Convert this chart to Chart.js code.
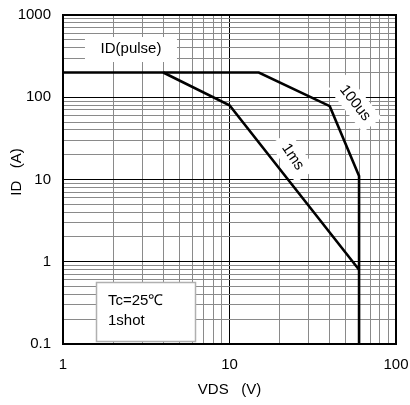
<!DOCTYPE html>
<html>
<head>
<meta charset="utf-8">
<script src="https://cdn.jsdelivr.net/npm/chart.js@4"></script>
<style>
  body { margin: 0; background: #fff; }
  #wrap { width: 410px; height: 405px; }
</style>
</head>
<body>
<div id="wrap"><canvas id="soa" width="410" height="405"></canvas></div>
<script>
// curvas SOA (VDS en V, ID en A)
const vds100us = [1, 15, 40, 60, 60];
const id100us = [200, 200, 78, 11, 0.1];
const vds1ms = [4, 10, 60];
const id1ms = [200, 80, 0.8];

// marcas de los ejes
const xTicks = [1, 2, 3, 4, 5, 6, 7, 8, 9, 10, 20, 30, 40, 50, 60, 70, 80, 90, 100];
const yTicks = [0.1, 0.2, 0.3, 0.4, 0.5, 0.6, 0.7, 0.8, 0.9, 1, 2, 3, 4, 5, 6, 7, 8, 9,
  10, 20, 30, 40, 50, 60, 70, 80, 90, 100, 200, 300, 400, 500, 600, 700, 800, 900, 1000];
const xLabels = ['1', '10', '100'];
const yLabels = ['0.1', '1', '10', '100', '1000'];

const font = "'Liberation Sans', Arial, sans-serif";

const toPoints = (xs, ys) => xs.map((x, i) => ({ x: x, y: ys[i] }));
const isDecade = (v) => Math.abs(Math.log10(v) - Math.round(Math.log10(v))) < 1e-6;
const gridColor = (ctx) => (ctx.tick && isDecade(ctx.tick.value)) ? '#000' : '#8a8a8a';

// textos y recuadros sobre la grafica
const notes = {
  id: 'notes',
  afterDatasetsDraw(chart) {
    const c = chart.ctx;
    const xs = chart.scales.x, ys = chart.scales.y;
    c.save();
    c.font = '15px ' + font;
    c.textAlign = 'center';
    c.textBaseline = 'middle';

    // ID(pulse)
    let px = xs.getPixelForValue(2.56), py = ys.getPixelForValue(386);
    c.fillStyle = '#fff';
    c.fillRect(px - 46, py - 12, 92, 25);
    c.fillStyle = '#000';
    c.fillText('ID(pulse)', px, py);

    // etiquetas giradas
    const rotated = (txt, vx, vy, ang, w, h) => {
      c.save();
      c.translate(xs.getPixelForValue(vx), ys.getPixelForValue(vy));
      c.rotate(ang * Math.PI / 180);
      c.fillStyle = '#fff';
      c.fillRect(-w / 2, -h / 2, w, h);
      c.fillStyle = '#000';
      c.fillText(txt, 0, 0);
      c.restore();
    };
    rotated('100us', 56.7, 85, 52, 56, 24);
    rotated('1ms', 24, 18.8, 56, 46, 24);

    // Tc / 1shot
    c.fillStyle = '#fff';
    c.fillRect(96, 282, 100, 60);
    c.strokeStyle = '#b0b0b0';
    c.lineWidth = 1.5;
    c.strokeRect(96.5, 282.5, 99, 59);
    c.fillStyle = '#000';
    c.textAlign = 'left';
    c.fillText('Tc=25\u2103', 108, 301);
    c.fillText('1shot', 108, 321);

    // marco del area
    const a = chart.chartArea;
    c.strokeStyle = '#000';
    c.lineWidth = 2;
    c.strokeRect(a.left, a.top, a.right - a.left, a.bottom - a.top);

    // titulos de ejes
    c.textAlign = 'center';
    c.fillText('VDS   (V)', (a.left + a.right) / 2, 390);
    c.save();
    c.translate(17, 172);
    c.rotate(-Math.PI / 2);
    c.fillText('ID   (A)', 0, 0);
    c.restore();
    c.restore();
  }
};

new Chart(document.getElementById('soa'), {
  type: 'scatter',
  data: {
    datasets: [
      {
        label: '100us',
        data: toPoints(vds100us, id100us),
        showLine: true,
        borderColor: '#000',
        borderWidth: 2.6,
        pointRadius: 0,
        tension: 0
      },
      {
        label: '1ms',
        data: toPoints(vds1ms, id1ms),
        showLine: true,
        borderColor: '#000',
        borderWidth: 2.6,
        pointRadius: 0,
        tension: 0
      }
    ]
  },
  options: {
    responsive: false,
    animation: false,
    devicePixelRatio: 1,
    layout: { padding: { left: 0, right: 14, top: 15, bottom: 0 } },
    plugins: { legend: { display: false }, tooltip: { enabled: false } },
    scales: {
      x: {
        type: 'logarithmic',
        min: 1,
        max: 100,
        afterBuildTicks: (s) => { s.ticks = xTicks.map(v => ({ value: v })); },
        afterFit: (s) => { s.height = 61; s.paddingLeft = 0; s.paddingRight = 0; },
        grid: { color: gridColor, lineWidth: 1, drawTicks: false },
        border: { display: false },
        ticks: {
          autoSkip: false,
          maxRotation: 0,
          padding: 12,
          color: '#000',
          font: { family: font, size: 15 },
          callback: (v) => isDecade(v) ? xLabels[Math.round(Math.log10(v))] : ''
        }
      },
      y: {
        type: 'logarithmic',
        min: 0.1,
        max: 1000,
        afterBuildTicks: (s) => { s.ticks = yTicks.map(v => ({ value: v })); },
        afterFit: (s) => { s.width = 63; s.paddingTop = 0; s.paddingBottom = 0; },
        grid: { color: gridColor, lineWidth: 1, drawTicks: false },
        border: { display: false },
        ticks: {
          autoSkip: false,
          padding: 12,
          color: '#000',
          font: { family: font, size: 15 },
          callback: (v) => isDecade(v) ? yLabels[Math.round(Math.log10(v)) + 1] : ''
        }
      }
    }
  },
  plugins: [notes]
});
</script>
</body>
</html>
